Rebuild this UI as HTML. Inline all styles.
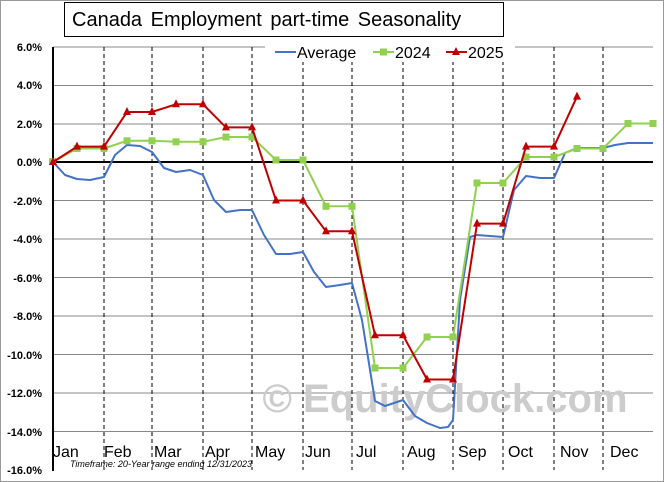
<!DOCTYPE html><html><head><style>body{margin:0;background:#fff}svg{display:block;font-family:"Liberation Sans",sans-serif}</style></head><body>
<svg width="664" height="482" viewBox="0 0 664 482">
<rect x="0.5" y="0.5" width="663" height="481" fill="#fff" stroke="#999"/>
<g stroke="#888" stroke-width="1">
<line x1="53" x2="653" y1="47" y2="47"/><line x1="53" x2="653" y1="85.5" y2="85.5"/><line x1="53" x2="653" y1="124" y2="124"/>
<line x1="53" x2="653" y1="200.5" y2="200.5"/><line x1="53" x2="653" y1="239" y2="239"/><line x1="53" x2="653" y1="277.5" y2="277.5"/><line x1="53" x2="653" y1="316" y2="316"/><line x1="53" x2="653" y1="354.5" y2="354.5"/><line x1="53" x2="653" y1="393" y2="393"/><line x1="53" x2="653" y1="431.5" y2="431.5"/>
</g>
<g stroke="#000" stroke-dasharray="4,3">
<line x1="104" x2="104" y1="47" y2="470"/><line x1="152" x2="152" y1="47" y2="470"/><line x1="203" x2="203" y1="47" y2="470"/><line x1="252" x2="252" y1="47" y2="470"/><line x1="303" x2="303" y1="47" y2="470"/><line x1="352" x2="352" y1="47" y2="470"/><line x1="403" x2="403" y1="47" y2="470"/><line x1="453" x2="453" y1="47" y2="470"/><line x1="503" x2="503" y1="47" y2="470"/><line x1="554" x2="554" y1="47" y2="470"/><line x1="603" x2="603" y1="47" y2="470"/>
</g>
<line x1="53" x2="53" y1="47" y2="471" stroke="#000" stroke-width="2"/>
<line x1="53" x2="653" y1="162" y2="162" stroke="#000" stroke-width="2"/>
<g font-size="11" font-weight="bold" text-anchor="end" fill="#000">
<text x="42" y="51">6.0%</text><text x="42" y="89">4.0%</text><text x="42" y="128">2.0%</text><text x="42" y="166">0.0%</text><text x="42" y="205">-2.0%</text><text x="42" y="243">-4.0%</text><text x="42" y="282">-6.0%</text><text x="42" y="320">-8.0%</text><text x="42" y="359">-10.0%</text><text x="42" y="397">-12.0%</text><text x="42" y="436">-14.0%</text><text x="42" y="474">-16.0%</text>
</g>
<text x="445" y="412" font-size="40" font-weight="bold" fill="#ccc" text-anchor="middle">© EquityClock.com</text>
<g font-size="16" fill="#000">
<text x="53" y="457">Jan</text><text x="104" y="457">Feb</text><text x="154" y="457">Mar</text><text x="205" y="457">Apr</text><text x="255" y="457">May</text><text x="305" y="457">Jun</text><text x="356" y="457">Jul</text><text x="407" y="457">Aug</text><text x="458" y="457">Sep</text><text x="508" y="457">Oct</text><text x="560" y="457">Nov</text><text x="610" y="457">Dec</text>
</g>
<text x="70" y="467" font-size="9" font-style="italic">Timeframe: 20-Year range ending 12/31/2023</text>
<polyline fill="none" stroke="#4472c4" stroke-width="2" stroke-linejoin="round" points="53,162 65,175 77,179 90,180 104,177 115,155 127,145 140,146 152,152 164,168 176,172 190,170 203,175 214,200 226,212 240,210 252,210 264,235 276,254 290,254 303,252 314,272 326,287 340,285 352,283 362,320 375,401 385,406 403,400 415,416 427,423 440,428 448,427 453,420 460,300 470,237 477,235 490,236 503,237 514,190 526,176 540,178 554,178 565,153 577,148 590,148 603,148 615,145 628,143 640,143 653,143"/>
<polyline fill="none" stroke="#92d050" stroke-width="2" points="53,162 77,148.5 104,148.5 127,140.8 152,140.8 176,141.8 203,141.8 226,137 252,137 276,160 303,160 326,206.3 352,206.3 375,368 403,368 427,337 453,337 477,183 503,183 526,157 554,157 577,148.5 603,148.5 628,123.5 653,123.5"/>
<g fill="#92d050"><rect x="49" y="158" width="7" height="7"/><rect x="73.5" y="145" width="7" height="7"/><rect x="100.5" y="145" width="7" height="7"/><rect x="123.5" y="137.3" width="7" height="7"/><rect x="148.5" y="137.3" width="7" height="7"/><rect x="172.5" y="138.3" width="7" height="7"/><rect x="199.5" y="138.3" width="7" height="7"/><rect x="222.5" y="133.5" width="7" height="7"/><rect x="248.5" y="133.5" width="7" height="7"/><rect x="272.5" y="156.5" width="7" height="7"/><rect x="299.5" y="156.5" width="7" height="7"/><rect x="322.5" y="202.8" width="7" height="7"/><rect x="348.5" y="202.8" width="7" height="7"/><rect x="371.5" y="364.5" width="7" height="7"/><rect x="399.5" y="364.5" width="7" height="7"/><rect x="423.5" y="333.5" width="7" height="7"/><rect x="449.5" y="333.5" width="7" height="7"/><rect x="473.5" y="179.5" width="7" height="7"/><rect x="499.5" y="179.5" width="7" height="7"/><rect x="522.5" y="153.5" width="7" height="7"/><rect x="550.5" y="153.5" width="7" height="7"/><rect x="573.5" y="145" width="7" height="7"/><rect x="599.5" y="145" width="7" height="7"/><rect x="624.5" y="120" width="7" height="7"/><rect x="649.5" y="120" width="7" height="7"/></g>
<polyline fill="none" stroke="#c00000" stroke-width="2" points="53,162 77,146.6 104,146.6 127,112 152,112 176,104.3 203,104.3 226,127.4 252,127.4 276,200.5 303,200.5 326,231.3 352,231.3 375,335.3 403,335.3 427,379.5 453,379.5 477,223.6 503,223.6 526,146.6 554,146.6 577,96.6"/>
<g fill="#c00000">
<polygon points="53,157 49,165 57,165"/><polygon points="77,141.6 73,149.6 81,149.6"/><polygon points="104,141.6 100,149.6 108,149.6"/><polygon points="127,107 123,115 131,115"/><polygon points="152,107 148,115 156,115"/><polygon points="176,99.3 172,107.3 180,107.3"/><polygon points="203,99.3 199,107.3 207,107.3"/><polygon points="226,122.4 222,130.4 230,130.4"/><polygon points="252,122.4 248,130.4 256,130.4"/><polygon points="276,195.5 272,203.5 280,203.5"/><polygon points="303,195.5 299,203.5 307,203.5"/><polygon points="326,226.3 322,234.3 330,234.3"/><polygon points="352,226.3 348,234.3 356,234.3"/><polygon points="375,330.3 371,338.3 379,338.3"/><polygon points="403,330.3 399,338.3 407,338.3"/><polygon points="427,374.5 423,382.5 431,382.5"/><polygon points="453,374.5 449,382.5 457,382.5"/><polygon points="477,218.6 473,226.6 481,226.6"/><polygon points="503,218.6 499,226.6 507,226.6"/><polygon points="526,141.6 522,149.6 530,149.6"/><polygon points="554,141.6 550,149.6 558,149.6"/><polygon points="577,91.6 573,99.6 581,99.6"/>
</g>
<rect x="64.5" y="2.5" width="439" height="34" fill="#fff" stroke="#000"/>
<text x="72" y="26" font-size="20" word-spacing="3">Canada Employment part-time Seasonality</text>
<rect x="265" y="44" width="250" height="18" fill="#fff"/>
<line x1="275" x2="296" y1="52" y2="52" stroke="#4472c4" stroke-width="2"/><text x="297" y="58" font-size="16">Average</text>
<line x1="373" x2="394" y1="52" y2="52" stroke="#92d050" stroke-width="2"/><rect x="380" y="48.5" width="7" height="7" fill="#92d050"/><text x="395" y="58" font-size="16">2024</text>
<line x1="446" x2="467" y1="52" y2="52" stroke="#c00000" stroke-width="2"/><polygon points="456,47 452,55 460,55" fill="#c00000"/><text x="468" y="58" font-size="16">2025</text>
</svg>
</body></html>
